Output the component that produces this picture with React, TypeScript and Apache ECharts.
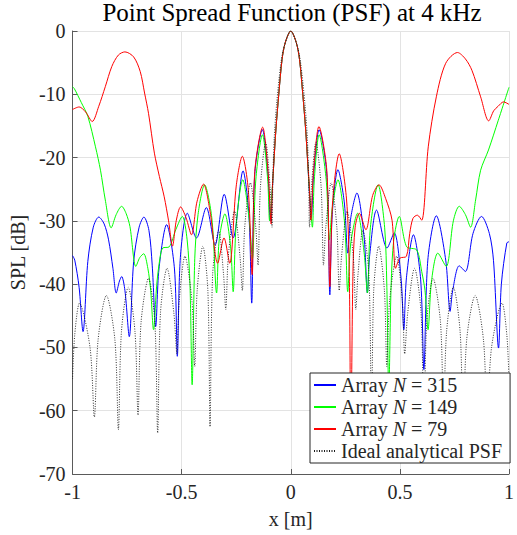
import React, { useEffect, useRef } from 'react';
import * as echarts from 'echarts';

const titleText = 'Point Spread Function (PSF) at 4 kHz';
const xName = 'x [m]';
const yName = 'SPL [dB]';
const seriesNames = ['Array N = 315', 'Array N = 149', 'Array N = 79', 'Ideal analytical PSF'];
const seriesColors = ['#0000ff', '#00ff00', '#ff0000', '#1a1a1a'];

const blue: number[][] = [
  [-1.0, -35.5], [-0.99, -36.2], [-0.97, -40.5], [-0.952, -47.5], [-0.93, -36.4], [-0.905, -31],
  [-0.88, -29.4], [-0.855, -30.5], [-0.835, -33], [-0.815, -37.5], [-0.8, -41.4], [-0.785, -39.5],
  [-0.775, -38.8], [-0.76, -41], [-0.74, -48.3], [-0.72, -36.4], [-0.695, -31], [-0.673, -29.4],
  [-0.65, -31.5], [-0.635, -37], [-0.619, -46.7], [-0.604, -37.6], [-0.569, -30.6], [-0.533, -37.6],
  [-0.52, -51.4], [-0.506, -35.8], [-0.474, -28.8], [-0.432, -32.7], [-0.387, -27.9], [-0.347, -33.8],
  [-0.305, -25.8], [-0.264, -32.7], [-0.219, -22.1], [-0.192, -29], [-0.179, -43], [-0.165, -22.6],
  [-0.13, -15.6], [-0.105, -22.6], [-0.094, -30], [-0.086, -26], [-0.078, -21], [-0.068, -15.5],
  [-0.055, -10], [-0.04, -4.5], [-0.025, -1.8], [0, 0], [0.025, -1.8], [0.04, -4.5], [0.055, -10],
  [0.068, -15.5], [0.078, -21], [0.086, -26], [0.094, -29.5], [0.105, -22.6], [0.13, -15.6],
  [0.165, -22.6], [0.179, -41.7], [0.19, -29], [0.216, -21.9], [0.245, -27], [0.261, -35.1],
  [0.275, -29.5], [0.303, -25.6], [0.336, -32.6], [0.351, -41.4], [0.362, -35.3], [0.393, -28.3],
  [0.441, -34.3], [0.474, -31.9], [0.505, -38.9], [0.518, -47.2], [0.53, -39], [0.562, -32.2],
  [0.595, -39.2], [0.61, -53.5], [0.628, -36.2], [0.667, -29.2], [0.71, -36.2], [0.73, -44.3],
  [0.742, -41], [0.772, -37.1], [0.8, -38], [0.835, -32], [0.874, -29.3], [0.91, -32], [0.929, -36.3],
  [0.952, -50.1], [0.965, -40], [0.99, -33.5], [1.0, -33.3],
];

const green: number[][] = [
  [-1.0, -8.8], [-0.992, -9.1], [-0.96, -11.3], [-0.93, -13.5], [-0.895, -18.3], [-0.872, -22],
  [-0.85, -26.7], [-0.823, -31.1], [-0.8, -29], [-0.775, -27.7], [-0.755, -28.8], [-0.737, -30.9],
  [-0.71, -37.2], [-0.692, -35.8], [-0.674, -35.2], [-0.655, -37.5], [-0.642, -41], [-0.629, -47.2],
  [-0.614, -40], [-0.6, -36], [-0.587, -34.3], [-0.557, -34.1], [-0.527, -31.4], [-0.497, -29.3],
  [-0.475, -33], [-0.462, -40], [-0.452, -55.9], [-0.44, -36], [-0.425, -29], [-0.395, -24.3],
  [-0.362, -29.5], [-0.34, -41.4], [-0.328, -33], [-0.302, -28.9], [-0.276, -34], [-0.264, -41.2],
  [-0.25, -30.5], [-0.22, -23.5], [-0.19, -30], [-0.176, -36], [-0.16, -23.4], [-0.13, -16.4],
  [-0.106, -23.4], [-0.097, -30], [-0.086, -25.5], [-0.078, -21], [-0.068, -15.5], [-0.055, -10],
  [-0.04, -4.5], [-0.025, -1.8], [0, 0], [0.025, -1.8], [0.04, -4.5], [0.055, -10], [0.068, -15.5],
  [0.078, -21], [0.086, -25.5], [0.099, -31], [0.108, -23.4], [0.13, -16.4], [0.162, -23.4],
  [0.177, -33], [0.19, -28], [0.216, -23.5], [0.247, -30.5], [0.261, -41.2], [0.275, -33.5],
  [0.306, -28.8], [0.336, -35], [0.351, -41.4], [0.365, -31], [0.4, -24.3], [0.43, -31], [0.44, -40],
  [0.449, -57], [0.46, -40], [0.472, -33], [0.497, -29.3], [0.531, -34.1], [0.577, -34.6], [0.6, -38],
  [0.615, -41], [0.629, -47.2], [0.645, -39.5], [0.674, -35.1], [0.712, -37.2], [0.745, -30],
  [0.772, -27.7], [0.8, -29], [0.824, -31], [0.847, -26.7], [0.87, -22], [0.906, -18.8], [0.951, -14.1],
  [1.0, -8.9],
];

const red: number[][] = [
  [-1.0, -12.4], [-0.97, -12.0], [-0.94, -12.8], [-0.91, -14.3], [-0.88, -11.9], [-0.85, -8.8],
  [-0.82, -5.6], [-0.79, -3.8], [-0.76, -3.3], [-0.72, -4.1], [-0.69, -6.4], [-0.67, -9.8],
  [-0.652, -13], [-0.625, -19.3], [-0.602, -23], [-0.58, -26.2], [-0.56, -30], [-0.542, -34],
  [-0.525, -30], [-0.505, -27.8], [-0.48, -29.5], [-0.455, -32.2], [-0.43, -27], [-0.4, -24.2],
  [-0.37, -28.5], [-0.335, -36.7], [-0.306, -32.7], [-0.28, -36.7], [-0.25, -24.5], [-0.222, -19.8],
  [-0.195, -25], [-0.177, -38.5], [-0.165, -22.2], [-0.129, -15.2], [-0.104, -22.2], [-0.09, -30.5],
  [-0.084, -24.5], [-0.078, -21], [-0.068, -15.5], [-0.055, -10], [-0.04, -4.5], [-0.025, -1.8],
  [0, 0], [0.025, -1.8], [0.04, -4.5], [0.055, -10], [0.068, -15.5], [0.078, -21], [0.085, -24.5],
  [0.092, -29.9], [0.104, -22.2], [0.129, -15.1], [0.165, -22], [0.179, -40.4], [0.192, -26.8],
  [0.222, -19.4], [0.255, -26.4], [0.268, -38], [0.275, -65], [0.285, -38], [0.295, -31],
  [0.314, -28.8], [0.344, -31.4], [0.375, -26], [0.404, -24.3], [0.435, -26.5], [0.464, -29.9],
  [0.48, -37.5], [0.5, -35.9], [0.53, -35.6], [0.545, -32], [0.56, -29.6], [0.58, -29.1], [0.6, -29.9],
  [0.63, -18.3], [0.667, -10.4], [0.71, -5.1], [0.764, -3.4], [0.8, -4.4], [0.83, -6.2], [0.87, -10.4],
  [0.907, -14.2], [0.93, -12.6], [0.95, -11.9], [0.975, -11.2], [1.0, -11.6],
];

const ideal: number[][] = [
  [-1.0, -55], [-0.99, -48], [-0.968, -43], [-0.92, -50], [-0.9, -61], [-0.883, -48.8], [-0.845, -41.8],
  [-0.806, -48.8], [-0.79, -63], [-0.776, -47.5], [-0.745, -40.5], [-0.714, -47.5], [-0.7, -60.7],
  [-0.686, -46], [-0.652, -39.1], [-0.623, -46], [-0.61, -63.5], [-0.597, -44.5], [-0.567, -37.5],
  [-0.536, -44.5], [-0.522, -51], [-0.511, -42.6], [-0.485, -35.6], [-0.453, -42.6], [-0.44, -53],
  [-0.429, -41], [-0.403, -34], [-0.38, -41], [-0.37, -62.5], [-0.358, -38.5], [-0.33, -31.5],
  [-0.308, -38.5], [-0.298, -44], [-0.286, -35.5], [-0.258, -28.5], [-0.233, -35.5], [-0.222, -41],
  [-0.211, -31], [-0.185, -24], [-0.1605, -31], [-0.15, -37], [-0.139, -24.6], [-0.115, -17.6],
  [-0.095, -24.6], [-0.086, -31], [-0.082, -23], [-0.076, -17], [-0.065, -11.6], [-0.045, -5],
  [-0.03, -2.4], [0, 0], [0.03, -2.4], [0.045, -5], [0.065, -11.6], [0.076, -17], [0.082, -23],
  [0.086, -31], [0.095, -24.6], [0.115, -17.6], [0.139, -24.6], [0.15, -37], [0.1605, -31],
  [0.185, -24], [0.211, -31], [0.222, -41], [0.233, -35.5], [0.258, -28.5], [0.286, -35.5],
  [0.298, -44], [0.308, -38.5], [0.33, -31.5], [0.358, -38.5], [0.37, -62.5], [0.38, -41],
  [0.403, -34], [0.429, -41], [0.44, -53], [0.453, -42.6], [0.485, -35.6], [0.511, -42.6],
  [0.522, -51], [0.536, -44.5], [0.567, -37.5], [0.597, -44.5], [0.61, -63.5], [0.623, -46],
  [0.652, -39.1], [0.686, -46], [0.7, -60.7], [0.714, -47.5], [0.745, -40.5], [0.776, -47.5],
  [0.79, -63], [0.806, -48.8], [0.845, -41.8], [0.883, -48.8], [0.9, -61], [0.92, -50], [0.968, -43],
  [0.99, -48], [1.0, -55],
];

const seriesData = [blue, green, red, ideal];

const FONT = "'Liberation Serif', serif";
const TEXT = '#262626';
const AXIS = '#5a5a5a';
const GRID = '#e3e3e3';

export default function App() {
  const ref = useRef<HTMLDivElement>(null);
  useEffect(() => {
    if (!ref.current) return;
    const chart = echarts.init(ref.current, undefined, { renderer: 'svg' });
    chart.setOption({
      animation: false,
      backgroundColor: '#ffffff',
      textStyle: { fontFamily: FONT },
      title: {
        text: titleText,
        left: 292,
        top: 0,
        padding: 0,
        textAlign: 'center',
        textStyle: { fontFamily: FONT, fontSize: 25, fontWeight: 'normal', color: '#000' },
      },
      grid: { left: 70, right: 3, top: 31, bottom: 61, containLabel: false },
      legend: {
        orient: 'vertical',
        left: 310,
        top: 373,
        z: 10,
        itemWidth: 22,
        itemHeight: 12,
        itemGap: 2,
        padding: [2, 8, 2, 3],
        backgroundColor: '#ffffff',
        borderColor: '#262626',
        borderWidth: 1,
        itemStyle: { opacity: 0, borderWidth: 0 },
        data: seriesNames,
        formatter: (n: string) => {
          const parts = n.split(' N ');
          if (parts.length === 2) return '{t|' + parts[0] + ' }{i|N}{t| ' + parts[1] + '}';
          return '{t|' + n + '}';
        },
        textStyle: {
          fontFamily: FONT,
          fontSize: 20,
          fontStyle: 'normal',
          color: TEXT,
          rich: {
            t: { fontFamily: FONT, fontSize: 20, fontStyle: 'normal', fontWeight: 'normal', color: TEXT },
            i: { fontFamily: FONT, fontSize: 20, fontStyle: 'italic', fontWeight: 'normal', color: TEXT },
          },
        },
      },
      xAxis: {
        type: 'value',
        min: -1,
        max: 1,
        interval: 0.5,
        name: xName,
        nameLocation: 'middle',
        nameGap: 35,
        nameTextStyle: { fontFamily: FONT, fontSize: 20, color: TEXT },
        axisLine: { show: true, onZero: false, lineStyle: { color: AXIS, width: 1 } },
        axisTick: { show: true, inside: true, length: 5, lineStyle: { color: AXIS } },
        axisLabel: { fontFamily: FONT, fontSize: 20, color: TEXT, margin: 8 },
        splitLine: { show: true, lineStyle: { color: GRID, width: 1 } },
      },
      yAxis: {
        type: 'value',
        min: -70,
        max: 0,
        interval: 10,
        name: yName,
        nameLocation: 'middle',
        nameGap: 40,
        nameRotate: 90,
        nameTextStyle: { fontFamily: FONT, fontSize: 20, color: TEXT },
        axisLine: { show: true, onZero: false, lineStyle: { color: AXIS, width: 1 } },
        axisTick: { show: true, inside: true, length: 5, lineStyle: { color: AXIS } },
        axisLabel: { fontFamily: FONT, fontSize: 20, color: TEXT, margin: 7 },
        splitLine: { show: true, lineStyle: { color: GRID, width: 1 } },
      },
      series: seriesNames.map((name, i) => ({
        name,
        type: 'line',
        data: seriesData[i],
        symbol: 'none',
        smooth: 0.3,
        lineStyle: {
          color: seriesColors[i],
          width: i === 3 ? 0.9 : 1,
          type: i === 3 ? [1, 1.5] : 'solid',
        },
        itemStyle: { color: seriesColors[i] },
        z: 2,
      })),
    });
    return () => chart.dispose();
  }, []);
  return (
    <div
      ref={ref}
      style={{ position: 'absolute', left: 0, top: 0, width: 517, height: 535 }}
    />
  );
}
